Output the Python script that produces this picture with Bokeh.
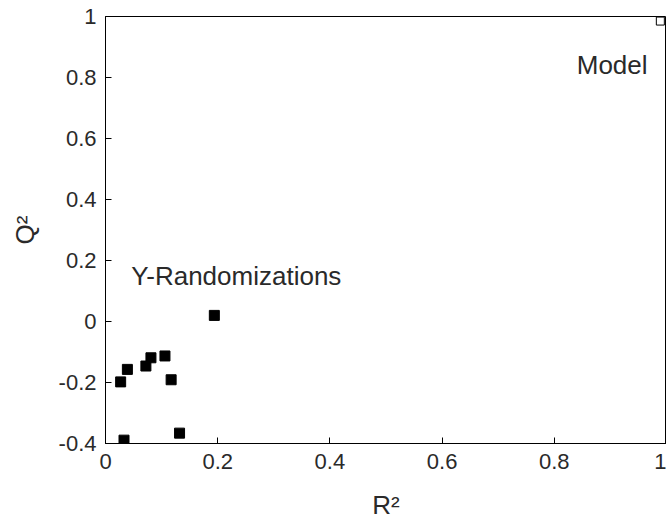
from bokeh.plotting import figure
from bokeh.models import Range1d, FixedTicker, Label
from bokeh.embed import file_html
from bokeh.resources import INLINE

# Data
rand_r2 = [0.027, 0.039, 0.072, 0.081, 0.106, 0.117, 0.132, 0.033, 0.194]
rand_q2 = [-0.198, -0.157, -0.146, -0.119, -0.113, -0.191, -0.366, -0.389, 0.020]
model_r2 = [0.989]
model_q2 = [0.985]

x_ticks = [0, 0.2, 0.4, 0.6, 0.8, 1]
x_tick_labels = ["0", "0.2", "0.4", "0.6", "0.8", "1"]
y_ticks = [-0.4, -0.2, 0, 0.2, 0.4, 0.6, 0.8, 1]
y_tick_labels = ["-0.4", "-0.2", "0", "0.2", "0.4", "0.6", "0.8", "1"]

FONT = "Liberation Sans"

p = figure(width=666, height=522, output_backend="svg", toolbar_location=None,
           x_range=Range1d(0, 1), y_range=Range1d(-0.4, 1),
           min_border_left=105, min_border_right=0, min_border_top=16, min_border_bottom=75)
p.background_fill_color = "white"
p.border_fill_color = "white"
p.outline_line_color = "black"
p.outline_line_width = 1
p.xgrid.visible = False
p.ygrid.visible = False

for ax, ticks, labels in ((p.xaxis[0], x_ticks, x_tick_labels), (p.yaxis[0], y_ticks, y_tick_labels)):
    ax.ticker = FixedTicker(ticks=ticks)
    ax.major_label_overrides = {t: l for t, l in zip(ticks, labels)}
    ax.minor_tick_line_color = None
    ax.major_tick_in = 6
    ax.major_tick_out = 0
    ax.axis_line_color = "black"
    ax.major_tick_line_color = "black"
    ax.major_label_text_font = FONT
    ax.major_label_text_font_size = "22px"
    ax.major_label_text_color = "#2a2a2a"
    ax.axis_label_text_font = FONT
    ax.axis_label_text_font_size = "26px"
    ax.axis_label_text_font_style = "normal"
    ax.axis_label_text_color = "#2a2a2a"

p.xaxis.axis_label = "R²"
p.yaxis.axis_label = "Q²"
p.xaxis.major_label_standoff = 10
p.yaxis.major_label_standoff = 9
p.xaxis.axis_label_standoff = 18
p.yaxis.axis_label_standoff = 16

p.scatter(rand_r2, rand_q2, marker="square", size=10, fill_color="black", line_color="black")
p.scatter(model_r2, model_q2, marker="square", size=8, fill_color="white", line_color="black", line_width=1)

p.add_layout(Label(x=0.046, y=0.15, text="Y-Randomizations", text_font=FONT,
                   text_font_size="26px", text_color="#2a2a2a", text_baseline="alphabetic"))
p.add_layout(Label(x=0.840, y=0.841, text="Model", text_font=FONT,
                   text_font_size="26px", text_color="#2a2a2a", text_baseline="alphabetic"))

open("out.html", "w").write(file_html(p, INLINE))
